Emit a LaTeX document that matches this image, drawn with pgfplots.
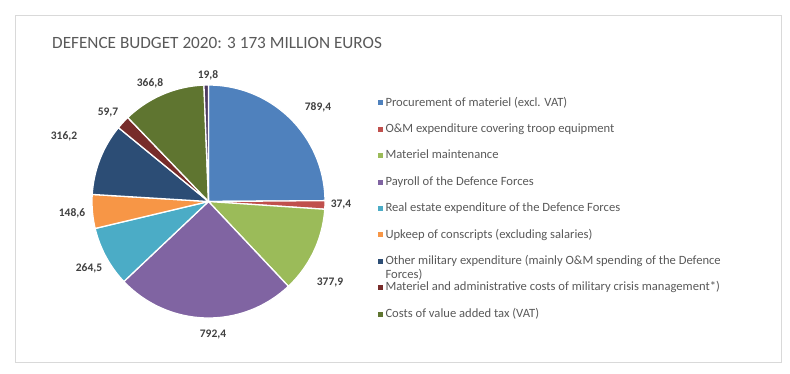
\documentclass[border=0pt]{standalone}
\usepackage{pgfplots}
\usepackage{pgfplotstable}
\pgfplotsset{compat=1.18}
\usepackage{fontspec}
\setmainfont{Carlito}

\definecolor{c0}{HTML}{4F81BD}
\definecolor{c1}{HTML}{C0504D}
\definecolor{c2}{HTML}{9BBB59}
\definecolor{c3}{HTML}{8064A2}
\definecolor{c4}{HTML}{4BACC6}
\definecolor{c5}{HTML}{F79646}
\definecolor{c6}{HTML}{2C4D75}
\definecolor{c7}{HTML}{772C2A}
\definecolor{c8}{HTML}{5F7530}
\definecolor{c9}{HTML}{4D3B62}
\definecolor{titlegray}{HTML}{595959}
\definecolor{textgray}{HTML}{404040}
\definecolor{bordergray}{HTML}{D9D9D9}

% value, label position (pixel coordinates of the label centre)
\pgfplotstableread{
val   lx   ly
789.4 318  107
37.4  341  205
377.9 330  283
792.4 213  334
264.5 89   268
148.6 72   213
316.2 64   136
59.7  108  113
366.8 150  83
19.8  208  75
}\budget

\def\cx{208.5}
\def\cy{201.5}
\def\rad{116.5}

\begin{document}
\begin{tikzpicture}
\begin{axis}[
  width=790pt, height=373pt, scale only axis,
  xmin=0, xmax=790, ymin=0, ymax=373, y dir=reverse,
  hide axis, clip=false,
  legend cell align=left,
  legend image code/.code={\fill[#1, draw=none] (0pt,-2.5pt) rectangle (5pt,2.5pt);},
  legend style={draw=none, fill=none, inner sep=0pt, outer sep=0pt,
    at={(axis cs:378,95.5)}, anchor=north west,
    font=\fontsize{12.6}{14.5}\selectfont, text=titlegray,
    nodes={inner sep=1pt, text height=9.5pt, text depth=3.3pt},
    row sep=11.6pt,
    /tikz/every odd column/.append style={column sep=1.5pt}},
]
\path (axis cs:0,0) rectangle (axis cs:790,373);
% total
\def\total{0}
\pgfplotsforeachungrouped \i in {0,...,9}{%
  \pgfplotstablegetelem{\i}{val}\of\budget
  \pgfmathsetmacro\total{\total+\pgfplotsretval}%
}
\def\cum{0}
\pgfplotsforeachungrouped \i in {0,...,9}{%
  \pgfplotstablegetelem{\i}{val}\of\budget
  \let\v\pgfplotsretval
  \pgfplotstablegetelem{\i}{lx}\of\budget
  \let\lx\pgfplotsretval
  \pgfplotstablegetelem{\i}{ly}\of\budget
  \let\ly\pgfplotsretval
  \pgfmathsetmacro\angA{90-\cum/\total*360}%
  \pgfmathsetmacro\cum{\cum+\v}%
  \pgfmathsetmacro\angB{90-\cum/\total*360}%
  \edef\doslice{\noexpand\addplot[forget plot, fill=c\i, draw=white, line width=1.3pt, line join=round,
      domain=\angB:\angA, samples=80, variable=\noexpand\t]
      ({\cx+\rad*cos(\noexpand\t)},{\cy-\rad*sin(\noexpand\t)}) -- (axis cs:\cx,\cy) -- cycle;
    \noexpand\node[font=\noexpand\fontsize{11.5}{13}\noexpand\selectfont\noexpand\bfseries, text=textgray]
      at (axis cs:\lx,\ly) {\noexpand\pgfmathprintnumber[fixed, fixed zerofill, precision=1, use comma, assume math mode=true]{\v}};}%
  \doslice
}
\addlegendimage{fill=c0}\addlegendentry{Procurement of materiel (excl. VAT)}
\addlegendimage{fill=c1}\addlegendentry{O\&M expenditure covering troop equipment}
\addlegendimage{fill=c2}\addlegendentry{Materiel maintenance}
\addlegendimage{fill=c3}\addlegendentry{Payroll of the Defence Forces}
\addlegendimage{fill=c4}\addlegendentry{Real estate expenditure of the Defence Forces}
\addlegendimage{fill=c5}\addlegendentry{Upkeep of conscripts (excluding salaries)}
\addlegendimage{fill=c6}\addlegendentry{\begin{tabular}[t]{@{}l@{}}Other military expenditure (mainly O\&M spending of the Defence\\Forces)\end{tabular}}
\addlegendimage{fill=c7}\addlegendentry{Materiel and administrative costs of military crisis management*)}
\addlegendimage{fill=c8}\addlegendentry{Costs of value added tax (VAT)}

\node[anchor=west, inner sep=0pt, font=\fontsize{17.2}{19}\selectfont, text=titlegray] at (axis cs:52,43) {DEFENCE BUDGET 2020: 3 173 MILLION EUROS};
\draw[bordergray, line width=0.8pt] (axis cs:15,15) rectangle (axis cs:781,362);
\end{axis}
\end{tikzpicture}
\end{document}
